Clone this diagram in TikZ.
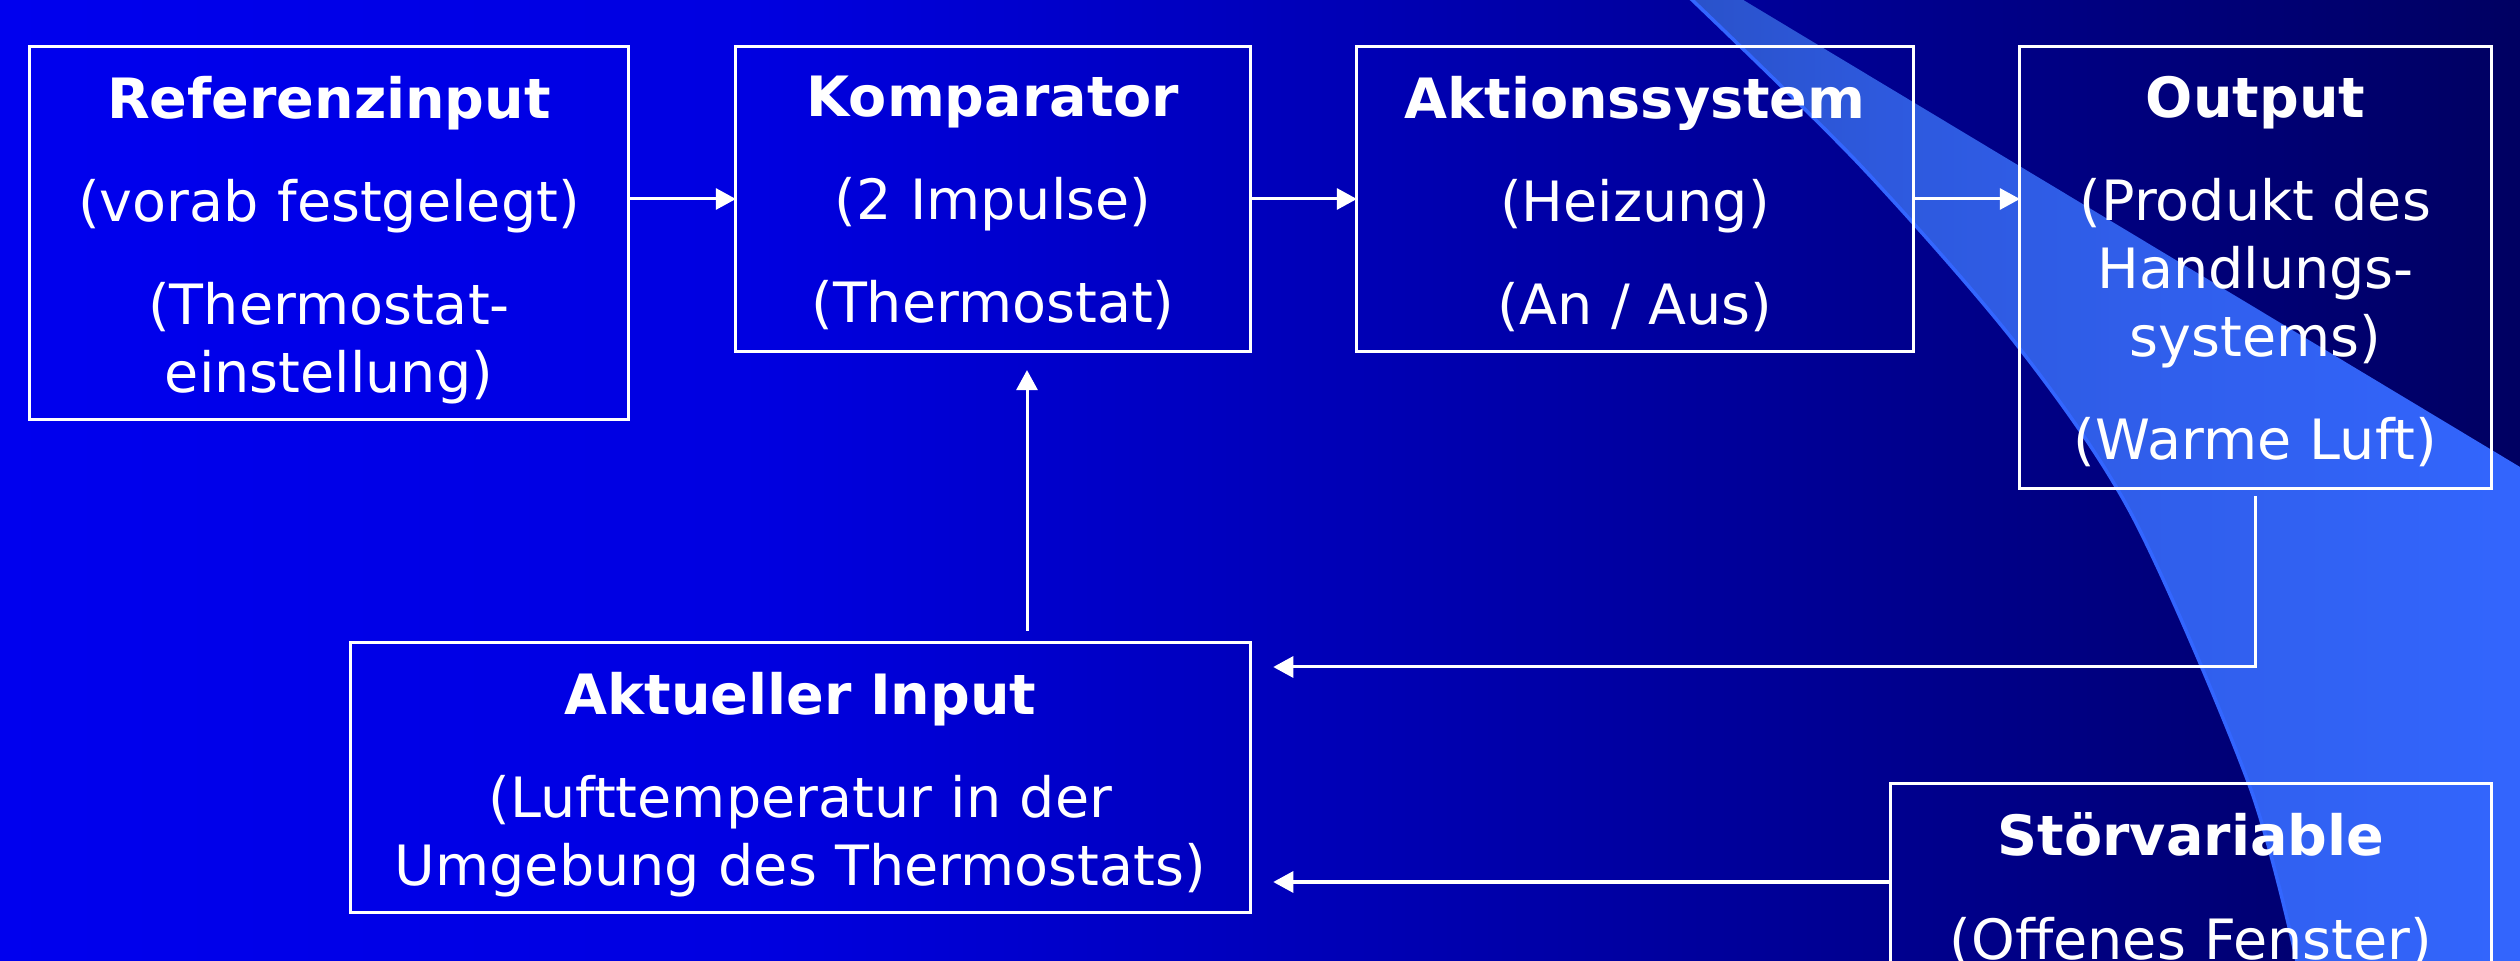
\documentclass[tikz,border=0pt]{standalone}
\usepackage{fontspec}
\setmainfont{DejaVu Sans}
\usetikzlibrary{arrows.meta,calc}
\definecolor{swblue}{RGB}{51,102,255}
\pgfdeclarehorizontalshading{bgshade}{100bp}{rgb(0bp)=(0,0,1); rgb(12bp)=(0,0,0.98); rgb(40bp)=(0,0,0.88); rgb(61bp)=(0,0,0.58); rgb(83bp)=(0,0,0.27); rgb(100bp)=(0,0,0.04)}
\pgfdeclarehorizontalshading{swshade}{100bp}{rgb(0bp)=(0.13,0.26,0.63); rgb(37bp)=(0.18,0.35,0.87); rgb(76bp)=(0.2,0.4,1); rgb(100bp)=(0.2,0.4,1)}
\begin{document}
\begin{tikzpicture}[x=0.01cm, y=-0.01cm,
  box/.style={draw=white, line width=0.03cm, rectangle, inner sep=0pt, outer sep=0pt},
  txt/.style={text=white, anchor=north, inner sep=0pt, outer sep=0pt, align=center, font=\fontsize{15.8}{19.35}\selectfont},
  arr/.style={draw=white, line width=0.03cm, -{Triangle[length=0.2cm,width=0.21cm]}},
  swline/.style={draw=swblue, line width=0.035cm}
]
\useasboundingbox (0,0) rectangle (2520,961);
\clip (0,0) rectangle (2520,961);
% background
\shade[shading=bgshade] (0,0) rectangle (2520,961);
% swoosh
\shade[shading=swshade] plot[smooth] coordinates {(1687,-5) (1860,165) (2017,345) (2133,517) (2250,787) (2300,975)} -- (2530,975) -- (2530,473) -- (1735,-5) -- cycle;
\draw[swline] plot[smooth] coordinates {(1687,-5) (1860,165) (2017,345) (2133,517) (2250,787) (2300,975)};
% boxes
\node[box, minimum width=5.98cm, minimum height=3.72cm] (ref) at (329,233) {};
\node[box, minimum width=5.14cm, minimum height=3.04cm] (komp) at (993,199) {};
\node[box, minimum width=5.56cm, minimum height=3.04cm] (aks) at (1635,199) {};
\node[box, minimum width=4.71cm, minimum height=4.41cm] (out) at (2255.5,267.5) {};
\node[box, minimum width=8.99cm, minimum height=2.69cm] (akt) at (800.5,777.5) {};
\node[box, minimum width=6.00cm, minimum height=1.96cm] (stor) at (2191,882) {};
% texts
\node[txt, text width=5.9cm] (refT) at ([yshift=-0.29cm]ref.north) {\textbf{Referenzinput}\\[9.96pt](vorab festgelegt)\\[9.96pt](Thermostat-\\einstellung)};
\node[txt, text width=5.1cm] (kompT) at ([yshift=-0.29cm]komp.north) {\textbf{Komparator}\\[9.96pt](2 Impulse)\\[9.96pt](Thermostat)};
\node[txt, text width=5.5cm] (aksT) at ([yshift=-0.29cm]aks.north) {\textbf{Aktionssystem}\\[9.96pt](Heizung)\\[9.96pt](An / Aus)};
\node[txt, text width=4.7cm] (outT) at ([yshift=-0.29cm]out.north) {\textbf{Output}\\[9.96pt](Produkt des\\Handlungs-\\systems)\\[9.96pt](Warme Luft)};
\node[txt, text width=8.95cm] (aktT) at ([yshift=-0.29cm]akt.north) {\textbf{Aktueller Input}\\[9.96pt](Lufttemperatur in der\\Umgebung des Thermostats)};
\node[txt, text width=5.95cm] (storT) at ([yshift=-0.29cm]stor.north) {\textbf{Störvariable}\\[9.96pt](Offenes Fenster)};
% connectors
\coordinate (fbx) at (1027,0);
\coordinate (fby) at (0,667);
\draw[arr] (ref.east |- komp.west) -- (komp.west);
\draw[arr] (komp.east) -- (aks.west);
\draw[arr] (aks.east) -- (out.west |- aks.east);
\draw[arr, shorten <=0.12cm, shorten >=0.19cm] (akt.north -| fbx) -- (komp.south -| fbx);
\draw[arr, shorten <=0.08cm, shorten >=0.23cm] (out.south) -- (out.south |- fby) -- (akt.east |- fby);
\draw[arr, shorten >=0.23cm] (stor.west) -- (akt.east |- stor.west);
\end{tikzpicture}
\end{document}
